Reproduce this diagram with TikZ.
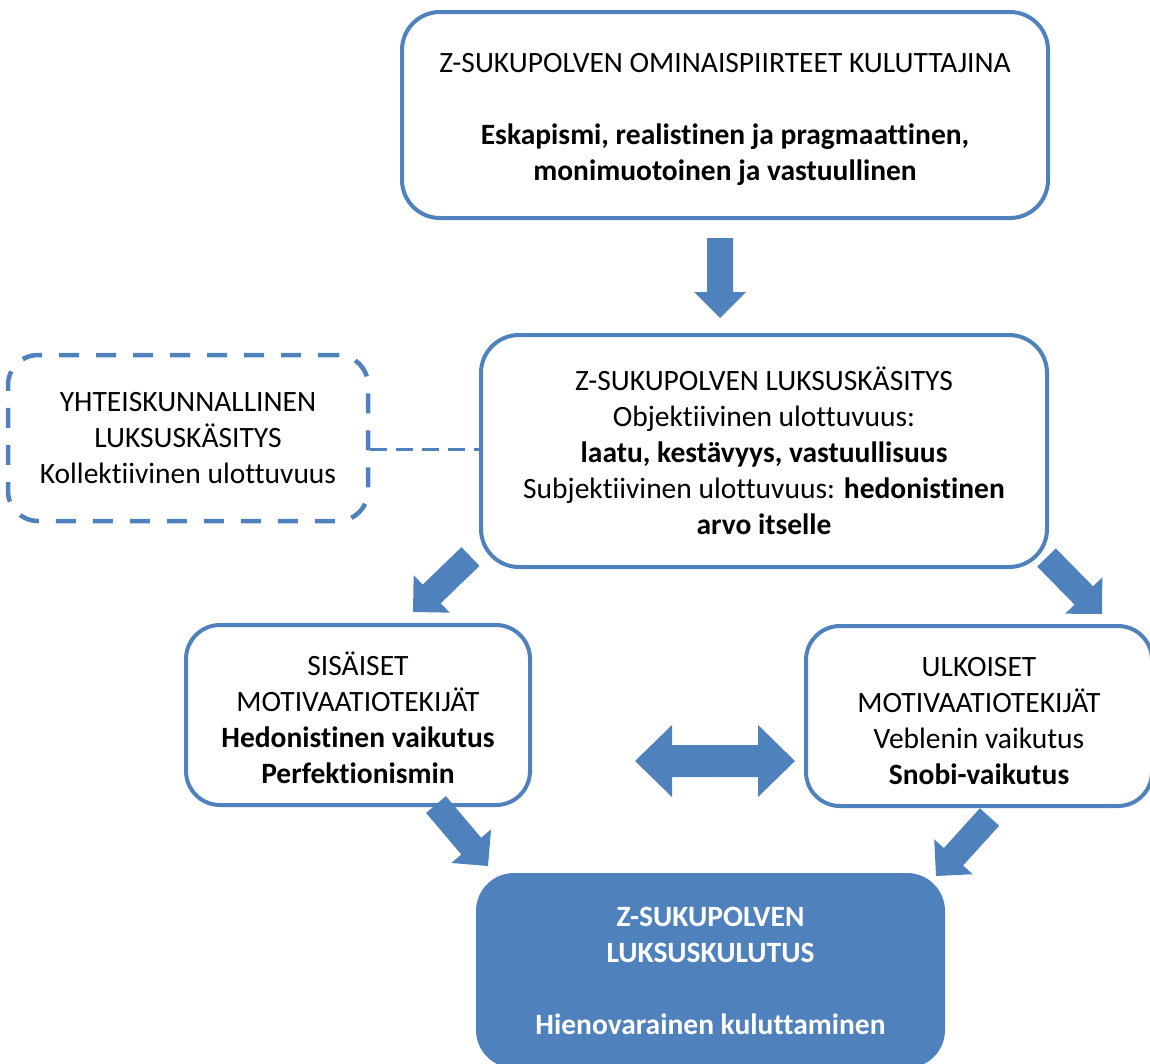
\documentclass[tikz,border=0pt]{standalone}
\usepackage{fontspec}
\setmainfont{Carlito}[Ligatures=NoCommon]
\usetikzlibrary{calc}
\definecolor{officeblue}{HTML}{4F81BD}

% thick block arrow: tail, tip, shaft half-width, head half-width, head length
\newcommand{\flowarrow}[5]{%
  \coordinate (hb) at ($(#2)!#5!(#1)$);
  \fill[officeblue] ($(#1)!#3!90:(#2)$) -- ($(hb)!#3!90:(#2)$) -- ($(hb)!#4!90:(#2)$)
    -- (#2) -- ($(hb)!#4!-90:(#2)$) -- ($(hb)!#3!-90:(#2)$) -- ($(#1)!#3!-90:(#2)$) -- cycle;
}
% extra room above the first text line of a box
\newcommand{\headroom}[1]{\rule{0pt}{#1}}

\tikzset{
  txt/.style={font=\fontsize{29.5}{36}\selectfont},
  box/.style={draw=officeblue, line width=4pt, rounded corners=38pt, fill=white,
    align=center, inner sep=0pt, text=black, txt},
  smallbox/.style={box, rounded corners=34pt},
  dashbox/.style={box, rounded corners=30pt, line width=4.5pt, dash pattern=on 20pt off 17pt},
  resultbox/.style={box, rounded corners=36pt, fill=officeblue, text=white, font=\fontsize{29.5}{36}\selectfont\bfseries},
  link/.style={draw=officeblue, line width=3pt, dash pattern=on 17pt off 9pt},
}

\begin{document}
\begin{tikzpicture}[x=1pt, y=-1pt]
\useasboundingbox (0,0) rectangle (1150,1063);

% boxes
\node[box, minimum width=646pt, minimum height=206pt] (traits) at (725,115)
  {\headroom{27pt}Z-SUKUPOLVEN OMINAISPIIRTEET KULUTTAJINA\\[36pt]
   \textbf{Eskapismi, realistinen ja pragmaattinen,}\\
   \textbf{monimuotoinen ja vastuullinen}};

\node[box, minimum width=566pt, minimum height=232pt] (concept) at (764,451)
  {Z-SUKUPOLVEN LUKSUSKÄSITYS\\
   Objektiivinen ulottuvuus:\\
   \textbf{laatu, kestävyys, vastuullisuus}\\
   Subjektiivinen ulottuvuus: \textbf{hedonistinen}\\
   \textbf{arvo itselle}};

\node[dashbox, minimum width=360pt, minimum height=166pt] (society) at (188,438)
  {YHTEISKUNNALLINEN\\LUKSUSKÄSITYS\\Kollektiivinen ulottuvuus};

\node[smallbox, minimum width=344pt, minimum height=180pt] (inner) at (358,715)
  {\headroom{30pt}SISÄISET\\MOTIVAATIOTEKIJÄT\\\textbf{Hedonistinen vaikutus}\\\textbf{Perfektionismin}};

\node[smallbox, minimum width=346pt, minimum height=180pt] (outer) at (979,716)
  {\headroom{30pt}ULKOISET\\MOTIVAATIOTEKIJÄT\\Veblenin vaikutus\\\textbf{Snobi-vaikutus}};

\node[resultbox, minimum width=465pt, minimum height=191pt] (result) at (710.5,970.5)
  {Z-SUKUPOLVEN\\LUKSUSKULUTUS\\[36pt]Hienovarainen kuluttaminen};

% dashed link between the two notions of luxury
\coordinate (lk) at (0,449);
\draw[link] (society.east |- lk) -- (concept.west |- lk);

% arrow end points
\coordinate (a1t) at (720,238);    \coordinate (a1h) at (720,318);
\coordinate (a2t) at (470.5,556.5);\coordinate (a2h) at (413,612);
\coordinate (a3t) at (1046.5,557.5);\coordinate (a3h) at (1102,614);
\coordinate (a4t) at (436,804.5);  \coordinate (a4h) at (488,866);
\coordinate (a5t) at (989.5,817);  \coordinate (a5h) at (936,876);
\coordinate (dc) at (715,761);
\coordinate (dl) at (635,761);     \coordinate (dr) at (795,761);

\flowarrow{a1t}{a1h}{13pt}{26pt}{26pt}
\flowarrow{a2t}{a2h}{13pt}{26pt}{26pt}
\flowarrow{a3t}{a3h}{13pt}{26pt}{26pt}
\flowarrow{a4t}{a4h}{13pt}{26pt}{26pt}
\flowarrow{a5t}{a5h}{13pt}{26pt}{26pt}
\flowarrow{dc}{dl}{16pt}{36pt}{37pt}
\flowarrow{dc}{dr}{16pt}{36pt}{37pt}
\end{tikzpicture}
\end{document}
